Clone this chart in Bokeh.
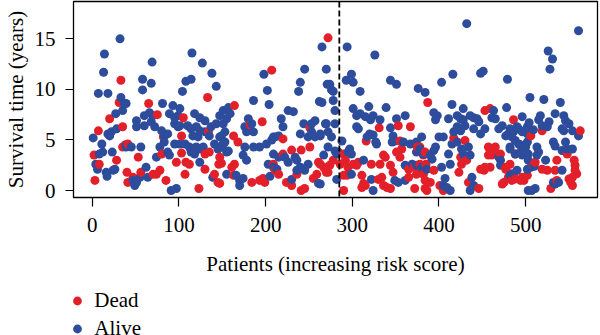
import numpy as np
from bokeh.plotting import figure
from bokeh.layouts import column
from bokeh.models import Range1d, FixedTicker, Span, Legend, LegendItem, ColumnDataSource
from bokeh.embed import file_html
from bokeh.resources import INLINE

# ---- data (patient rank, survival time in years) ----
dead_rank = [3, 2, 8, 7, 20, 28, 31, 33, 35, 38, 40, 41,
             133, 65, 75, 105, 82, 103, 134, 41, 35, 53, 80, 130, 135, 103, 97, 108, 112, 146, 47, 56, 70, 74, 78, 85, 107, 130, 141, 145, 123,
             272, 207, 164, 182, 196, 220, 251, 163, 168, 251, 220, 230, 241, 261, 267, 272, 147, 149, 164, 161, 209, 211, 215, 147, 163, 184, 193, 197, 199, 224, 236, 230, 241, 245, 255, 259,
             387, 331, 353, 367, 316, 355, 357, 375, 384, 290, 286, 292, 278, 274, 269, 270, 263, 295, 301, 294, 290, 305, 307, 322, 332, 336, 338, 344, 347, 355, 351, 311, 313, 311, 315, 330, 334, 336, 340, 344, 290, 365, 372, 384, 374, 365, 371, 378, 380,
             417, 453, 459, 486, 430, 378, 382, 385, 394, 382, 384, 390, 386, 425, 426, 423, 432, 401, 405, 457, 459, 465, 461, 467, 471, 457, 448, 453, 459, 452, 488, 482, 477, 475, 480, 484, 494, 496, 434, 446,
             519, 506, 563, 548, 536, 511, 509, 519, 525, 556, 557, 557, 559, 554, 550, 552, 554, 477, 482, 488, 498, 502, 473, 529, 534, 536]
dead_years = [1.0, 3.5, 2.6, 5.9, 7.1, 3.0, 8.7, 10.9, 6.3, 4.5, 1.8, 0.8,
              9.2, 8.6, 7.5, 7.2, 5.3, 5.4, 5.8, 4.6, 4.3, 3.3, 3.6, 3.6, 3.8, 3.7, 2.8, 2.8, 2.6, 2.6, 1.3, 1.8, 1.6, 1.6, 2.0, 1.0, 1.6, 2.1, 1.6, 0.8, 0.2,
              15.1, 11.9, 8.4, 6.5, 6.8, 5.1, 6.2, 5.4, 4.8, 4.3, 3.6, 4.0, 4.0, 2.8, 2.3, 1.8, 3.3, 2.7, 2.6, 2.3, 2.6, 2.0, 1.6, 0.7, 1.5, 0.8, 1.0, 1.2, 0.8, 0.8, 1.6, 0.5, 0.0, 0.2, 1.2, 1.6,
              8.7, 6.2, 6.4, 6.3, 4.9, 4.9, 4.1, 4.3, 3.8, 3.6, 2.6, 3.0, 3.0, 2.5, 2.1, 1.8, 2.6, 2.3, 2.6, 1.5, 1.5, 2.5, 2.8, 2.6, 2.6, 3.5, 3.3, 2.5, 1.8, 3.3, 3.8, 1.5, 0.7, 0.3, 0.5, 1.1, 1.3, 0.5, 0.3, 0.2, 0.0, 1.3, 0.2, 0.2, 1.6, 2.1, 2.3, 2.6, 2.1,
              5.2, 7.9, 8.1, 7.0, 4.95, 4.3, 3.5, 2.6, 2.0, 1.6, 1.0, 0.8, 0.0, 3.3, 2.6, 1.8, 3.0, 0.5, 0.0, 4.3, 3.95, 4.3, 3.5, 3.6, 3.6, 3.5, 2.1, 2.3, 2.3, 2.0, 3.6, 2.6, 2.3, 0.8, 1.3, 1.0, 1.0, 1.3, 0.8, 0.2,
              5.9, 5.4, 5.9, 3.6, 3.0, 2.8, 2.5, 2.1, 2.0, 3.0, 2.5, 2.0, 1.65, 1.3, 1.15, 0.8, 0.5, 2.1, 1.65, 1.15, 1.0, 1.5, 0.65, 0.2, 2.0, 1.0]

alive_rank = [1, 4, 6, 8, 11, 7, 12, 14, 13, 18, 16, 17, 22, 18, 20, 23, 26, 24, 27, 28, 32, 33, 35, 37, 39,
              115, 69, 127, 138, 58, 68, 58, 108, 114, 104, 143, 81, 39, 60, 66, 70, 93, 101, 89, 95, 99, 118, 124, 130, 147, 151, 51, 51, 60, 68, 72, 80, 83, 87, 95, 99, 101, 110, 114, 120, 124, 130, 137, 143, 116, 122, 135, 149, 151, 45, 39, 56, 78, 83, 87, 89, 95, 101, 107, 112, 116, 120, 124, 128, 114, 118, 141, 145, 149, 124, 74, 62, 155, 155, 47, 51, 55, 64, 139, 91, 97, 49,
              265, 198, 245, 270, 240, 238, 202, 271, 186, 204, 262, 226, 232, 157, 159, 155, 151, 153, 180, 184, 176, 178, 186, 218, 220, 215, 209, 244, 253, 257, 253, 249, 257, 263, 270, 240, 147, 153, 149, 157, 176, 186, 193, 201, 207, 211, 174, 178, 272, 267, 209, 215, 222, 226, 234, 236, 249, 240, 236, 245, 203, 209, 213, 166, 170, 174, 170, 205, 230, 261,
              294, 326, 299, 293, 301, 274, 276, 278, 309, 344, 351, 376, 384, 265, 278, 280, 301, 305, 309, 319, 315, 321, 324, 339, 332, 351, 361, 344, 269, 272, 276, 263, 280, 305, 307, 320, 317, 324, 327, 328, 347, 349, 346, 359, 367, 374, 378, 374, 382, 288, 284, 282, 280, 297, 299, 295, 299, 282, 313, 322, 324, 349, 353, 361, 361, 369, 374, 386, 263,
              432, 403, 416, 448, 451, 479, 415, 428, 394, 398, 396, 411, 421, 425, 428, 436, 440, 444, 446, 463, 461, 465, 478, 496, 505, 421, 430, 425, 417, 440, 453, 448, 469, 473, 480, 486, 492, 496, 502, 502, 380, 400, 405, 396, 394, 390, 392, 411, 415, 421, 426, 434, 436, 428, 380, 403, 413, 407, 409, 413, 405, 471, 471, 469, 482, 488, 494, 496, 500, 503, 490, 486, 482, 438, 440, 436, 503, 503,
              561, 526, 531, 528, 521, 540, 504, 515, 517, 527, 534, 544, 546, 550, 482, 490, 509, 519, 525, 477, 484, 488, 492, 502, 542, 544, 554, 561, 532, 534, 546, 548, 554, 542, 482, 494, 496, 513, 515, 513, 523, 502, 506, 510, 507, 511, 532, 538, 534, 542]
alive_years = [5.2, 2.6, 2.1, 3.6, 4.6, 9.6, 3.8, 13.5, 11.7, 9.6, 1.8, 1.4, 5.8, 5.6, 5.4, 3.8, 2.1, 2.0, 7.6, 6.1, 15.0, 9.2, 7.9, 8.6, 4.5,
               13.6, 12.7, 12.6, 11.6, 11.0, 10.6, 9.95, 10.8, 11.0, 9.8, 10.3, 8.6, 8.6, 7.4, 7.7, 7.4, 8.4, 8.1, 7.6, 7.2, 7.4, 7.6, 7.2, 6.9, 7.4, 7.9, 6.9, 6.3, 6.4, 6.8, 6.3, 5.9, 5.4, 5.6, 6.6, 6.3, 6.4, 6.4, 6.1, 6.3, 5.9, 5.8, 6.3, 6.6, 5.4, 5.3, 5.4, 5.4, 4.6, 4.3, 4.3, 4.3, 4.3, 4.8, 3.8, 3.5, 4.6, 4.6, 4.6, 4.3, 4.1, 4.3, 4.1, 4.3, 3.8, 3.6, 4.6, 4.1, 4.3, 2.8, 3.3, 2.3, 3.8, 1.6, 1.0, 0.8, 1.3, 1.3, 1.3, 0.0, 0.2, 0.5,
               14.2, 11.5, 12.0, 12.0, 10.7, 9.8, 9.9, 10.5, 8.9, 8.5, 8.8, 7.9, 7.8, 8.2, 7.6, 7.1, 6.6, 5.8, 7.1, 6.6, 6.3, 5.8, 5.8, 7.1, 6.3, 5.4, 5.3, 6.6, 6.6, 6.9, 5.8, 5.3, 5.3, 5.4, 6.6, 5.6, 5.3, 4.8, 4.3, 3.9, 4.3, 4.3, 4.3, 4.6, 5.0, 5.3, 3.5, 3.0, 4.3, 3.5, 3.6, 3.3, 3.3, 2.8, 3.3, 3.0, 2.6, 2.3, 2.0, 2.0, 2.6, 2.3, 2.1, 1.5, 1.0, 1.2, 0.5, 1.4, 1.1, 0.7,
               14.2, 13.4, 11.5, 10.9, 10.7, 10.5, 9.95, 9.8, 9.8, 10.9, 10.5, 10.1, 9.7, 8.7, 8.9, 7.9, 8.1, 7.4, 7.6, 8.3, 7.3, 7.0, 7.4, 8.2, 7.0, 7.1, 7.4, 6.2, 6.6, 5.8, 5.3, 5.6, 6.6, 6.3, 6.1, 5.6, 5.3, 5.5, 4.8, 4.6, 5.4, 4.9, 4.8, 4.8, 4.6, 4.8, 4.1, 3.8, 3.6, 4.9, 3.8, 3.6, 3.9, 4.1, 3.6, 3.8, 1.6, 1.1, 3.0, 1.1, 0.0, 1.0, 0.8, 1.0, 2.5, 2.6, 2.5, 2.1, 0.65,
               16.5, 10.7, 11.5, 11.6, 11.8, 11.0, 8.5, 8.1, 7.7, 7.4, 7.0, 7.1, 7.4, 7.1, 7.0, 7.4, 7.2, 7.1, 6.8, 7.9, 7.2, 7.1, 8.2, 7.3, 9.2, 6.3, 6.4, 5.9, 5.8, 6.1, 6.1, 5.6, 6.1, 6.4, 5.6, 5.8, 6.1, 5.8, 6.3, 5.6, 5.3, 5.3, 5.3, 4.3, 3.95, 3.5, 3.1, 3.6, 4.6, 4.8, 4.1, 4.3, 3.5, 3.6, 2.3, 2.3, 2.6, 1.2, 0.3, 0.0, 0.5, 3.0, 2.5, 3.3, 4.3, 3.6, 4.5, 3.95, 4.3, 3.6, 2.0, 1.65, 1.5, 1.3, 0.5, 0.0, 3.0, 0.0,
               15.8, 13.8, 13.0, 12.0, 9.0, 8.7, 6.7, 7.0, 7.4, 6.8, 7.6, 7.4, 6.9, 6.6, 6.1, 6.3, 6.0, 6.4, 6.3, 5.4, 5.3, 4.95, 4.6, 4.8, 6.1, 5.9, 5.9, 5.4, 4.8, 4.4, 4.8, 4.1, 4.1, 3.95, 4.1, 3.8, 3.5, 4.3, 3.8, 3.5, 3.0, 2.1, 2.3, 2.4, 0.0, 0.2, 0.8, 0.8, 0.65, 2.0]

status_labels = ["Dead", "Alive"]
x_ticks = [0, 100, 200, 300, 400, 500]
y_ticks = [0, 5, 10, 15]
risk_cutoff_rank = 285
x_title = "Patients (increasing risk score)"
y_title = "Survival time (years)"

RED = "#E3202A"
BLUE = "#2D4C9C"
FONT = "Liberation Serif"
FS = "21px"

rank = np.array(dead_rank + alive_rank, dtype=float)
years = np.array(dead_years + alive_years, dtype=float)
colors = np.array([RED] * len(dead_rank) + [BLUE] * len(alive_rank))
order = np.argsort(rank, kind="stable")
src = ColumnDataSource(dict(x=rank[order], y=years[order], c=colors[order]))

MAIN_H = 283
p = figure(width=600, height=MAIN_H,
           x_range=Range1d(-21.7, 582.9), y_range=Range1d(-0.69, 18.69),
           output_backend="svg", toolbar_location=None,
           min_border_left=73, min_border_right=3, min_border_top=1, min_border_bottom=MAIN_H - 197,
           background_fill_color="white", border_fill_color="white")
p.frame_align = False

r = p.scatter("x", "y", source=src, size=9, fill_color="c", line_color=None)

p.add_layout(Span(location=risk_cutoff_rank, dimension="height", line_color="black",
                  line_dash="6 3", line_width=1.8))

p.grid.visible = False
p.outline_line_color = "black"
p.outline_line_width = 1.3
p.outline_line_alpha = 1

p.xaxis.ticker = FixedTicker(ticks=x_ticks)
p.yaxis.ticker = FixedTicker(ticks=y_ticks)
for ax in (p.xaxis[0], p.yaxis[0]):
    ax.axis_line_color = None
    ax.major_tick_in = 0
    ax.minor_tick_in = 0
    ax.minor_tick_out = 0
    ax.major_tick_line_color = "black"
    ax.major_tick_line_width = 1.2
    ax.major_label_text_font = FONT
    ax.major_label_text_font_size = FS
    ax.major_label_text_color = "black"
    ax.axis_label_text_font = FONT
    ax.axis_label_text_font_size = FS
    ax.axis_label_text_font_style = "normal"
    ax.axis_label_text_color = "black"
p.xaxis.major_tick_out = 9
p.yaxis.major_tick_out = 8
p.xaxis.major_label_standoff = 11
p.yaxis.major_label_standoff = 10
p.xaxis.axis_label = x_title
p.yaxis.axis_label = y_title
p.xaxis.axis_label_standoff = 17
p.yaxis.axis_label_standoff = 4

# ---- legend strip below the plot ----
LEG_H = 335 - MAIN_H
pl = figure(width=600, height=LEG_H, x_range=Range1d(0, 1), y_range=Range1d(0, 1),
            output_backend="svg", toolbar_location=None,
            min_border_left=0, min_border_right=0, min_border_top=0, min_border_bottom=0,
            x_axis_type=None, y_axis_type=None, outline_line_color=None,
            background_fill_color="white", border_fill_color="white")
pl.frame_align = False
pl.grid.visible = False
# legend-key markers sit outside the strip's visible range (only their legend swatches show)
r_dead = pl.scatter(x=[-5], y=[-5], size=9, fill_color=RED, line_color=None)
r_alive = pl.scatter(x=[-5], y=[-5], size=9, fill_color=BLUE, line_color=None)
LEG_TOTAL = 25 + 3 + 25
legend = Legend(items=[LegendItem(label=status_labels[0], renderers=[r_dead]),
                       LegendItem(label=status_labels[1], renderers=[r_alive])],
                location=(66.3, LEG_H - (287.5 - MAIN_H) - LEG_TOTAL), orientation="vertical",
                glyph_width=22, glyph_height=25, label_height=25, spacing=3,
                padding=0, margin=0, border_line_color=None, background_fill_alpha=0,
                label_standoff=6, label_text_font=FONT, label_text_font_size=FS,
                label_text_color="black")
pl.add_layout(legend)

open("out.html", "w").write(file_html(column(p, pl, spacing=0), INLINE))
